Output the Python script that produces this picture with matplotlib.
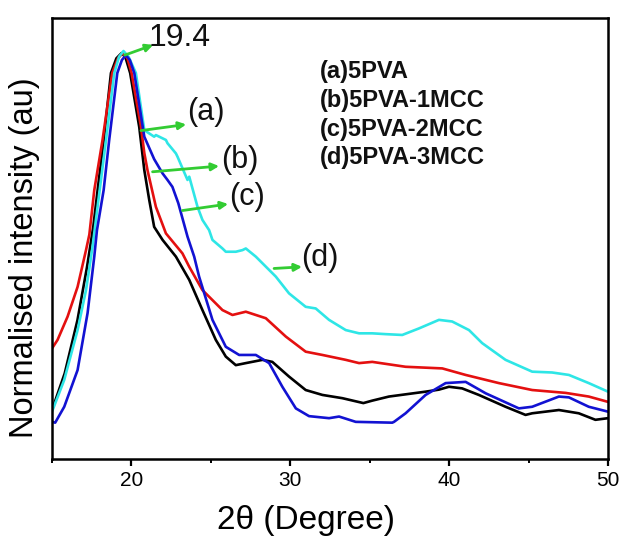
#!/usr/bin/env python3
"""XRD patterns of PVA / MCC films, normalised to the 19.4 deg peak."""

import matplotlib

matplotlib.use("Agg")
import matplotlib.pyplot as plt

# 2theta (deg) / normalised intensity
PVA_X = [15.0, 15.8, 16.6, 17.2, 17.6, 17.87, 18.25, 18.71, 19.05, 19.38, 19.62, 19.92,
         20.49, 20.81, 21.12, 21.43, 21.96, 22.80, 23.64, 24.47, 25.31, 25.94, 26.57,
         27.20, 28.25, 28.87, 29.92, 30.97, 32.02, 33.28, 34.60, 35.16, 35.79, 36.21,
         38.52, 39.36, 39.99, 40.82, 41.87, 43.55, 44.81, 45.23, 46.91, 48.16, 49.21,
         50.0]
PVA_Y = [0.12, 0.21, 0.34, 0.47, 0.57, 0.659, 0.78, 0.946, 0.982, 0.995, 0.985, 0.946,
         0.814, 0.708, 0.635, 0.569, 0.537, 0.496, 0.439, 0.365, 0.292, 0.251, 0.230,
         0.235, 0.243, 0.238, 0.202, 0.169, 0.157, 0.149, 0.137, 0.143, 0.149, 0.153,
         0.165, 0.170, 0.177, 0.173, 0.157, 0.128, 0.108, 0.112, 0.120, 0.112, 0.096,
         0.100]

MCC1_X = [15.0, 15.35, 15.98, 16.61, 17.14, 17.35, 17.66, 18.18, 18.79, 19.15, 19.45,
          19.75, 20.01, 20.60, 20.81, 21.01, 21.54, 22.17, 23.21, 23.64, 24.47, 25.73,
          26.36, 27.20, 28.46, 29.72, 30.97, 32.02, 33.49, 34.33, 35.16, 37.26, 39.57,
          41.04, 43.13, 45.23, 47.33, 48.79, 50.0]
MCC1_Y = [0.271, 0.292, 0.349, 0.422, 0.512, 0.55, 0.659, 0.782, 0.946, 0.982, 0.995,
          0.982, 0.946, 0.814, 0.750, 0.708, 0.618, 0.553, 0.504, 0.471, 0.414, 0.365,
          0.353, 0.361, 0.345, 0.300, 0.263, 0.255, 0.243, 0.235, 0.238, 0.226, 0.222,
          0.206, 0.186, 0.169, 0.162, 0.153, 0.140]

MCC2_X = [15.0, 15.2, 15.77, 16.61, 17.24, 17.66, 17.83, 18.25, 18.60, 19.11, 19.40,
          19.65, 19.90, 20.18, 20.81, 21.43, 21.96, 22.27, 22.58, 22.95, 23.53, 23.95,
          24.26, 25.10, 25.94, 26.78, 27.83, 28.67, 29.50, 30.35, 31.18, 32.44, 33.07,
          34.12, 36.42, 36.53, 37.26, 38.52, 39.78, 41.04, 42.30, 44.39, 45.23, 46.91,
          47.54, 48.79, 50.0]
MCC2_Y = [0.091, 0.089, 0.128, 0.218, 0.358, 0.496, 0.561, 0.659, 0.782, 0.946, 0.978,
          0.99, 0.978, 0.946, 0.790, 0.735, 0.700, 0.684, 0.667, 0.627, 0.545, 0.496,
          0.447, 0.341, 0.275, 0.255, 0.255, 0.235, 0.177, 0.124, 0.105, 0.100, 0.104,
          0.091, 0.089, 0.091, 0.112, 0.157, 0.186, 0.189, 0.161, 0.124, 0.128, 0.153,
          0.151, 0.128, 0.116]

MCC3_X = [15.0, 15.77, 16.61, 17.14, 17.55, 18.0, 18.40, 18.92, 19.22, 19.5, 19.82,
          20.28, 20.81, 21.43, 21.54, 22.17, 22.27, 22.80, 22.90, 23.53, 23.64, 24.16,
          24.47, 24.89, 25.10, 25.73, 25.94, 26.57, 26.99, 27.20, 27.83, 29.09, 29.92,
          30.97, 31.60, 32.44, 33.49, 34.33, 35.16, 36.01, 37.05, 38.10, 39.36, 40.19,
          41.25, 42.08, 43.55, 45.23, 46.48, 47.54, 48.79, 50.0]
MCC3_Y = [0.116, 0.194, 0.316, 0.414, 0.520, 0.659, 0.782, 0.946, 0.986, 1.0, 0.986,
          0.946, 0.806, 0.790, 0.794, 0.782, 0.774, 0.749, 0.741, 0.684, 0.692, 0.618,
          0.586, 0.561, 0.537, 0.516, 0.508, 0.508, 0.512, 0.516, 0.496, 0.447, 0.406,
          0.373, 0.369, 0.341, 0.316, 0.308, 0.308, 0.306, 0.304, 0.320, 0.341, 0.337,
          0.316, 0.284, 0.243, 0.214, 0.212, 0.206, 0.186, 0.165]

LEGEND_LINES = ["(a)5PVA", "(b)5PVA-1MCC", "(c)5PVA-2MCC", "(d)5PVA-3MCC"]
X_TICKS = [20, 30, 40, 50]
X_MINOR = [15, 25, 35, 45]

GREEN = "#33cc33"
LW = 1.9

# label, arrow tail (on curve), arrow head, text anchor
CALLOUTS = [
    ("19.4", (19.58, 0.99), (21.37, 1.015), (21.10, 1.031)),
    ("(a)", (20.60, 0.805), (23.45, 0.820), (23.50, 0.850)),
    ("(b)", (21.33, 0.704), (25.52, 0.718), (25.62, 0.733)),
    ("(c)", (23.21, 0.609), (26.09, 0.625), (26.15, 0.642)),
    ("(d)", (28.98, 0.467), (30.74, 0.471), (30.70, 0.493)),
]


def main() -> None:
    plt.rcParams["font.family"] = ["Liberation Sans", "DejaVu Sans"]
    fig = plt.figure(figsize=(6.2, 5.37), dpi=100)
    ax = fig.add_axes([0.0839, 0.1453, 0.8967, 0.8212])

    ax.plot(PVA_X, PVA_Y, color="#000000", lw=LW)
    ax.plot(MCC1_X, MCC1_Y, color="#e41010", lw=LW)
    ax.plot(MCC3_X, MCC3_Y, color="#2ee6e6", lw=LW)
    ax.plot(MCC2_X, MCC2_Y, color="#1212d2", lw=LW)

    ax.set_xlim(15, 50)
    ax.set_ylim(0, 1.081)
    ax.set_xticks(X_TICKS)
    ax.set_xticks(X_MINOR, minor=True)
    ax.set_yticks([])
    ax.tick_params(axis="x", which="major", length=5, width=1.6, pad=3.5, labelsize=15)
    ax.tick_params(axis="x", which="minor", length=3, width=1.4)
    for sp in ax.spines.values():
        sp.set_linewidth(1.8)

    ax.set_xlabel("2θ (Degree)", fontsize=24)
    ax.xaxis.set_label_coords(0.457, -0.105)
    ax.set_ylabel("Normalised intensity (au)", fontsize=23.5)
    ax.yaxis.set_label_coords(-0.022, 0.456)

    for label, tail, head, txt in CALLOUTS:
        ax.annotate("", xy=head, xytext=tail,
                    arrowprops=dict(arrowstyle="-|>", color=GREEN, lw=2.0,
                                    mutation_scale=11, shrinkA=0, shrinkB=0))
        ax.text(txt[0], txt[1], label, fontsize=23 if label == "19.4" else 22,
                ha="left", va="center", color="#111111")

    for i, line in enumerate(LEGEND_LINES):
        ax.text(0.482, 0.878 - i * 0.065, line, transform=ax.transAxes,
                fontsize=17, fontweight="bold", ha="left", va="center", color="#111111")

    fig.savefig("out.png", dpi=100)
    plt.close(fig)


if __name__ == "__main__":
    main()
